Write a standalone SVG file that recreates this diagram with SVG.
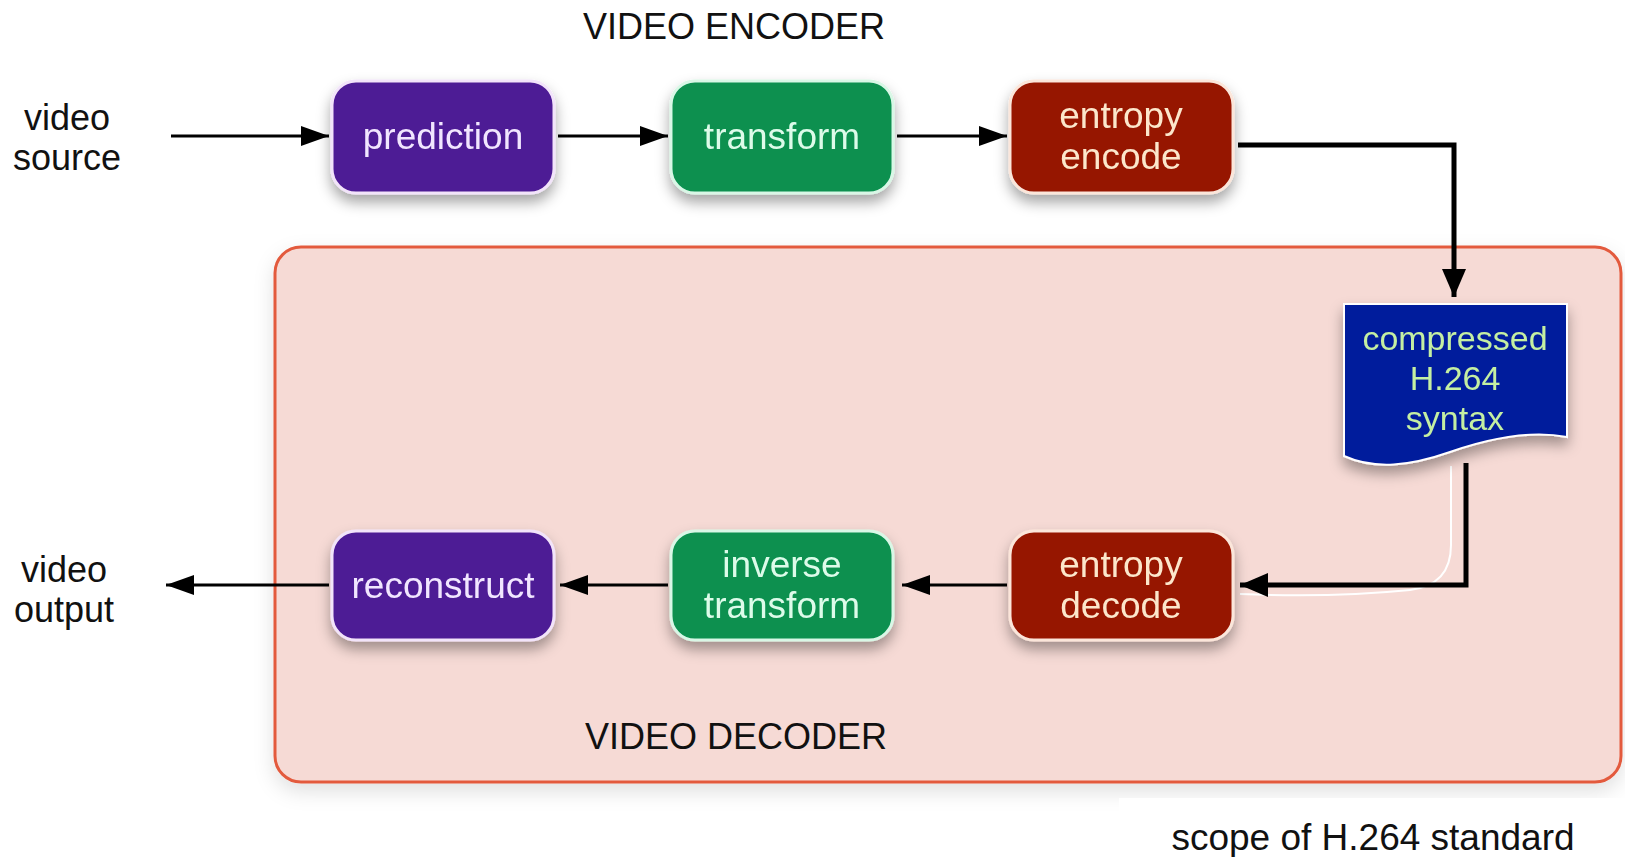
<svg xmlns="http://www.w3.org/2000/svg" width="1625" height="857" viewBox="0 0 1625 857">
  <defs>
    <style>
      text { font-family: "Liberation Sans", Arial, Helvetica, sans-serif; text-anchor: middle; }
      .lbl { font-size: 36px; fill: #111; }
      .node-text { font-size: 37px; }
      .purple rect { fill: #4E1A95; stroke: #F2E4FA; stroke-width: 3; }
      .purple text { fill: #F1E6FF; }
      .green rect { fill: #07904F; stroke: #D9F7E6; stroke-width: 3; }
      .green text { fill: #DDFBE9; }
      .red rect { fill: #961300; stroke: #FBE6DA; stroke-width: 3; }
      .red text { fill: #FCE7CB; }
      .line { fill: none; stroke: #000; stroke-width: 3; }
      .thick { fill: none; stroke: #000; stroke-width: 5; }
    </style>
    <filter id="shadow" x="-20%" y="-20%" width="140%" height="170%">
      <feDropShadow dx="0" dy="8" stdDeviation="7" flood-color="#000" flood-opacity="0.35"/>
    </filter>
    <filter id="regionShadow" x="-5%" y="-5%" width="110%" height="115%">
      <feDropShadow dx="0" dy="8" stdDeviation="10" flood-color="#000" flood-opacity="0.12"/>
    </filter>
    <marker id="arrow" viewBox="0 0 28 20" refX="28" refY="10" markerWidth="28" markerHeight="20" markerUnits="userSpaceOnUse" orient="auto">
      <path d="M0,0 L28,10 L0,20 Z" fill="#000"/>
    </marker>
    <marker id="arrowBig" viewBox="0 0 28 24" refX="28" refY="12" markerWidth="28" markerHeight="24" markerUnits="userSpaceOnUse" orient="auto">
      <path d="M0,0 L28,12 L0,24 Z" fill="#000"/>
    </marker>
  </defs>

  <rect width="1625" height="857" fill="#FFFFFF"/>

  <!-- decoder region (scope of the standard) -->
  <g id="decoder-region">
    <rect x="275" y="247" width="1346" height="535" rx="26" fill="#F6DAD5" stroke="#E35A3E" stroke-width="3" filter="url(#regionShadow)"/>
    <text class="lbl" x="736" y="749">VIDEO DECODER</text>
  </g>

  <!-- caption under the region -->
  <g id="scope-label">
    <rect x="1119" y="798" width="506" height="59" fill="#FFFFFF"/>
    <text class="lbl" x="1373" y="850" style="font-size:37px">scope of H.264 standard</text>
  </g>

  <text id="encoder-title" class="lbl" x="734" y="39">VIDEO ENCODER</text>

  <g id="video-source">
    <text class="lbl" x="67" y="130">video</text>
    <text class="lbl" x="67" y="170">source</text>
  </g>

  <g id="video-output">
    <text class="lbl" x="64" y="582">video</text>
    <text class="lbl" x="64" y="622">output</text>
  </g>

  <!-- connectors -->
  <g id="connectors">
    <line class="line" x1="171" y1="136" x2="329" y2="136" marker-end="url(#arrow)"/>
    <line class="line" x1="558" y1="136" x2="668" y2="136" marker-end="url(#arrow)"/>
    <line class="line" x1="897" y1="136" x2="1007" y2="136" marker-end="url(#arrow)"/>
    <polyline class="thick" points="1238,145 1454,145 1454,297" marker-end="url(#arrowBig)"/>
    <path d="M1451,466 V545 Q1451,585 1410,590 Q1330,598 1240,594" fill="none" stroke="#FFFFFF" stroke-width="2"/>
    <polyline class="thick" points="1466,463 1466,585 1240,585" marker-end="url(#arrowBig)"/>
    <line class="line" x1="1007" y1="585" x2="902" y2="585" marker-end="url(#arrow)"/>
    <line class="line" x1="668" y1="585" x2="560" y2="585" marker-end="url(#arrow)"/>
    <line class="line" x1="329" y1="585" x2="166" y2="585" marker-end="url(#arrow)"/>
  </g>

  <!-- encoder row -->
  <g id="prediction" class="purple" filter="url(#shadow)">
    <rect x="332" y="81" width="222" height="112" rx="24"/>
    <text class="node-text" x="443" y="149">prediction</text>
  </g>
  <g id="transform" class="green" filter="url(#shadow)">
    <rect x="671" y="81" width="222" height="112" rx="24"/>
    <text class="node-text" x="782" y="149">transform</text>
  </g>
  <g id="entropy-encode" class="red" filter="url(#shadow)">
    <rect x="1010" y="81" width="223" height="112" rx="24"/>
    <text class="node-text" x="1121" y="128">entropy</text>
    <text class="node-text" x="1121" y="169">encode</text>
  </g>

  <!-- bitstream document -->
  <g id="compressed-syntax" filter="url(#shadow)">
    <path d="M1344,304 H1567 V437 C1530,430 1490,438 1450,452 C1410,466 1375,470 1344,456 Z" fill="#041C9C" stroke="#FFFFFF" stroke-width="2"/>
    <text x="1455" y="350" style="font-size:34px; fill:#C4EFA2">compressed</text>
    <text x="1455" y="390" style="font-size:34px; fill:#C4EFA2">H.264</text>
    <text x="1455" y="430" style="font-size:34px; fill:#C4EFA2">syntax</text>
  </g>

  <!-- decoder row -->
  <g id="entropy-decode" class="red" filter="url(#shadow)">
    <rect x="1010" y="531" width="223" height="109" rx="24"/>
    <text class="node-text" x="1121" y="577">entropy</text>
    <text class="node-text" x="1121" y="618">decode</text>
  </g>
  <g id="inverse-transform" class="green" filter="url(#shadow)">
    <rect x="671" y="531" width="222" height="109" rx="24"/>
    <text class="node-text" x="782" y="577">inverse</text>
    <text class="node-text" x="782" y="618">transform</text>
  </g>
  <g id="reconstruct" class="purple" filter="url(#shadow)">
    <rect x="332" y="531" width="222" height="109" rx="24"/>
    <text class="node-text" x="443" y="598">reconstruct</text>
  </g>
</svg>
